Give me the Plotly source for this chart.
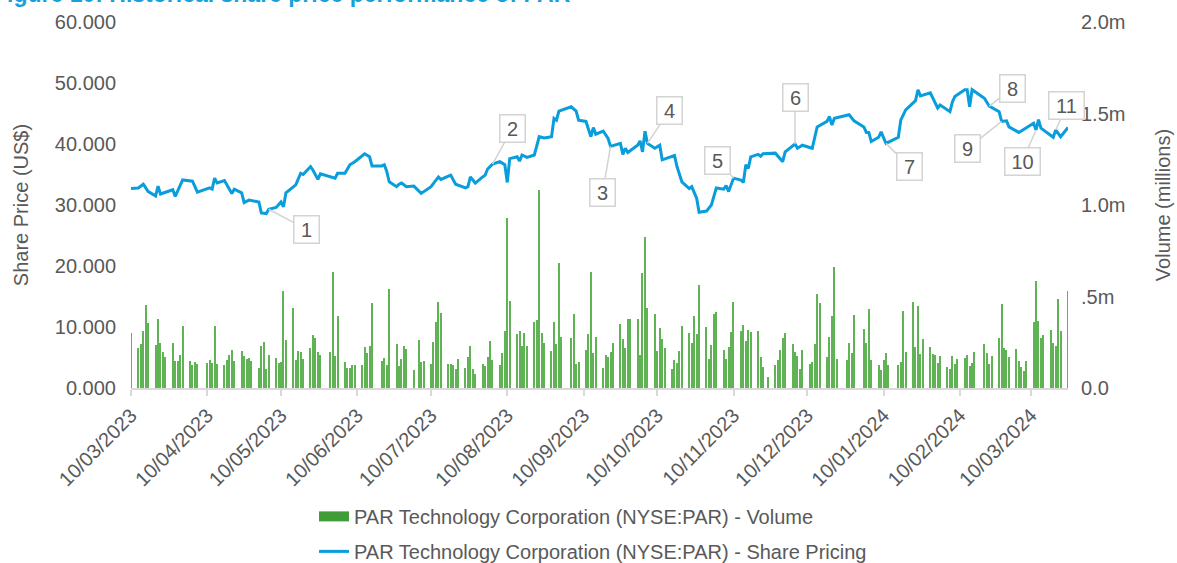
import pandas as pd
import plotly.graph_objects as go

# ---------------- data ----------------
price_dates = [
    "2023-03-10","2023-03-13","2023-03-15","2023-03-17","2023-03-20","2023-03-21","2023-03-22",
    "2023-03-27","2023-03-28","2023-03-31","2023-04-04","2023-04-06","2023-04-11","2023-04-12",
    "2023-04-13","2023-04-14","2023-04-17","2023-04-20","2023-04-21","2023-04-24","2023-04-25",
    "2023-04-27","2023-05-01","2023-05-02","2023-05-04","2023-05-05","2023-05-08","2023-05-10",
    "2023-05-11","2023-05-12","2023-05-16","2023-05-18","2023-05-19","2023-05-22","2023-05-23",
    "2023-05-25","2023-05-26","2023-05-31","2023-06-01","2023-06-02","2023-06-05","2023-06-07",
    "2023-06-09","2023-06-13","2023-06-15","2023-06-16","2023-06-20","2023-06-21","2023-06-22",
    "2023-06-23","2023-06-26","2023-06-27","2023-06-28","2023-06-30","2023-07-03","2023-07-06",
    "2023-07-10","2023-07-13","2023-07-14","2023-07-18","2023-07-20","2023-07-24","2023-07-25",
    "2023-07-26","2023-07-28","2023-07-31","2023-08-01","2023-08-02","2023-08-04","2023-08-07",
    "2023-08-09","2023-08-10","2023-08-11","2023-08-14","2023-08-15","2023-08-16","2023-08-18",
    "2023-08-21","2023-08-23","2023-08-25","2023-08-28","2023-08-29","2023-08-30","2023-08-31",
    "2023-09-05","2023-09-07","2023-09-08","2023-09-11","2023-09-12","2023-09-13","2023-09-14",
    "2023-09-15","2023-09-18","2023-09-20","2023-09-21","2023-09-25","2023-09-26","2023-09-27",
    "2023-09-28","2023-10-02","2023-10-03","2023-10-04","2023-10-05","2023-10-06","2023-10-09",
    "2023-10-11","2023-10-12","2023-10-16","2023-10-17","2023-10-18","2023-10-20","2023-10-23",
    "2023-10-24","2023-10-26","2023-10-27","2023-10-30","2023-11-01","2023-11-03","2023-11-06",
    "2023-11-07","2023-11-08","2023-11-10","2023-11-13","2023-11-14","2023-11-15","2023-11-16",
    "2023-11-17","2023-11-20","2023-11-21","2023-11-22","2023-11-27","2023-11-30","2023-12-01",
    "2023-12-05","2023-12-06","2023-12-08","2023-12-12","2023-12-14","2023-12-18","2023-12-19",
    "2023-12-20","2023-12-21","2023-12-27","2023-12-29","2024-01-02","2024-01-03","2024-01-04",
    "2024-01-05","2024-01-08","2024-01-09","2024-01-11","2024-01-16","2024-01-17","2024-01-19",
    "2024-01-23","2024-01-24","2024-01-25","2024-01-29","2024-01-30","2024-02-01","2024-02-02",
    "2024-02-06","2024-02-07","2024-02-08","2024-02-12","2024-02-13","2024-02-14","2024-02-15",
    "2024-02-20","2024-02-22","2024-02-26","2024-02-27","2024-02-29","2024-03-01","2024-03-05",
    "2024-03-07","2024-03-11","2024-03-12","2024-03-13","2024-03-14","2024-03-18","2024-03-19",
    "2024-03-20","2024-03-22","2024-03-25",
]
price_values = [
    32.7,32.8,33.4,32.2,31.5,33.1,31.8,
    32.5,31.4,34.1,33.9,32.1,32.8,32.6,
    34.4,33.6,34.0,31.9,32.6,32.0,30.4,
    30.8,30.5,28.7,28.6,29.3,29.6,30.5,
    29.7,32.0,33.3,35.2,35.0,36.3,35.7,
    34.2,35.1,34.6,34.4,35.2,35.2,36.6,
    37.1,38.4,37.9,36.4,36.4,36.6,35.5,
    33.8,33.0,33.4,33.6,33.0,33.1,31.9,
    33.0,34.6,34.2,34.9,33.4,32.8,33.0,
    34.6,33.6,34.6,34.9,35.9,36.7,37.1,
    36.6,33.7,37.6,37.9,37.2,38.2,37.8,
    38.2,41.2,41.0,41.2,44.2,43.9,45.4,
    46.1,45.4,43.9,43.7,42.3,41.2,42.7,
    41.6,42.1,40.9,39.6,40.1,38.3,39.3,
    38.6,39.8,40.5,38.7,42.1,40.1,39.3,
    39.8,37.4,37.9,38.1,36.3,33.8,32.7,
    33.0,31.1,28.8,29.0,30.0,32.8,32.6,
    33.2,32.2,34.4,34.1,33.7,36.6,36.0,
    37.9,38.3,38.0,38.4,38.5,37.1,38.7,
    40.0,39.3,39.8,39.3,42.8,43.7,44.5,
    43.1,44.2,44.8,43.8,42.8,41.9,41.9,
    40.4,41.1,42.0,40.1,41.1,43.9,45.6,
    47.1,48.9,47.9,48.4,47.5,45.9,46.4,
    45.3,46.9,47.8,48.9,48.9,46.1,48.9,
    47.5,46.2,45.3,43.7,43.8,42.8,41.9,
    42.4,43.4,42.3,44.0,42.6,41.5,41.1,
    42.3,41.2,42.7,
]

market_holidays = ["2023-04-07","2023-05-29","2023-06-19","2023-07-04","2023-09-04",
                   "2023-11-23","2023-12-25","2024-01-01","2024-01-15","2024-02-19"]
volume_millions = [
    0.299,
    0.217,0.240,0.311,0.454,0.357,
    0.235,0.377,0.244,0.199,0.168,
    0.244,0.149,0.146,0.180,0.339,
    0.146,0.126,0.140,0.133,
    0.138,0.153,0.138,0.339,0.131,
    0.126,0.153,0.180,0.208,0.149,
    0.204,0.175,0.157,0.162,0.149,
    0.111,0.230,0.251,0.102,0.180,
    0.162,0.138,0.140,0.530,0.262,
    0.437,0.153,0.204,0.197,0.158,
    0.217,0.290,0.275,0.195,0.180,
    0.199,0.636,0.175,0.395,
    0.142,0.107,0.107,0.124,0.124,
    0.124,0.222,0.191,0.231,0.466,
    0.149,0.162,0.128,0.543,
    0.240,0.120,0.158,0.230,0.213,
    0.098,0.262,0.144,0.149,
    0.133,0.250,0.361,0.470,0.408,
    0.129,0.129,0.128,0.104,0.158,
    0.111,0.168,0.231,0.106,0.075,
    0.129,0.120,0.169,0.257,0.153,
    0.124,0.189,0.311,0.931,0.475,
    0.293,0.313,0.228,0.299,0.228,
    0.361,0.372,1.082,0.299,0.244,
    0.204,0.361,0.240,0.681,0.281,
    0.271,0.404,0.129,0.142,
    0.208,0.293,0.636,0.189,0.281,
    0.107,0.180,0.171,0.199,0.248,
    0.348,0.270,0.217,0.377,0.377,
    0.377,0.180,0.627,0.827,0.439,
    0.404,0.202,0.326,0.266,0.217,
    0.104,0.153,0.135,0.202,0.341,
    0.301,0.248,0.395,0.297,0.563,
    0.333,0.158,0.235,0.404,0.417,
    0.208,0.158,0.226,0.304,0.470,
    0.313,0.346,0.257,0.317,0.306,
    0.310,0.171,0.113,0.058,
    0.126,0.153,0.208,0.271,0.299,
    0.239,0.195,0.177,0.104,0.208,
    0.131,0.144,0.240,0.515,0.463,
    0.168,0.279,0.393,0.659,0.158,
    0.153,0.248,0.189,0.399,
    0.324,0.244,0.432,0.153,
    0.126,0.098,0.153,0.189,0.126,
    0.126,0.140,0.421,0.195,
    0.470,0.222,0.448,0.186,0.266,
    0.222,0.186,0.180,0.138,0.175,
    0.113,0.104,0.175,0.131,0.158,
    0.162,0.180,0.120,0.138,0.199,
    0.240,0.189,0.129,0.175,
    0.271,0.457,0.217,0.208,0.168,
    0.213,0.149,0.113,0.093,0.149,
    0.359,0.587,0.368,0.273,0.290,
    0.315,0.244,0.231,0.486,0.311,
    0.530,
]

tick_dates = ["2023-03-10","2023-04-10","2023-05-10","2023-06-10","2023-07-10","2023-08-10",
              "2023-09-10","2023-10-10","2023-11-10","2023-12-10","2024-01-10","2024-02-10",
              "2024-03-10"]
price_ticks = [0, 10, 20, 30, 40, 50, 60]
volume_ticks = [0, 0.5, 1.0, 1.5, 2.0]
volume_ticktext = ["0.0", ".5m", "1.0m", "1.5m", "2.0m"]

event_labels = ["1","2","3","4","5","6","7","8","9","10","11"]
event_dates = ["2023-05-05","2023-08-04","2023-09-21","2023-10-06","2023-11-10","2023-12-05",
               "2024-01-11","2024-02-22","2024-02-27","2024-03-12","2024-03-20"]
event_offsets = [(38,20),(20,-36),(-8,46),(22,-33),(-16,-18),(0,-47),
                 (23,23),(23,-18),(-34,27),(-14,32),(11,-24)]

title_text = "Figure 10: Historical share price performance of PAR"
vol_name = "PAR Technology Corporation (NYSE:PAR) - Volume"
price_name = "PAR Technology Corporation (NYSE:PAR) - Share Pricing"

# ---------------- figure ----------------
trading_days = pd.bdate_range("2023-03-10", "2024-03-25", freq="C", holidays=market_holidays)
n = min(len(trading_days), len(volume_millions))
vol_x = trading_days[:n]
vol_y = volume_millions[:n]

FONT = "Liberation Sans, Arial, sans-serif"
GREY = "#595959"
AXIS = "#d9d9d9"

fig = go.Figure()
fig.add_trace(go.Bar(
    x=vol_x, y=vol_y, name=vol_name, yaxis="y", showlegend=False,
    marker=dict(color="#5fb355", line=dict(width=0)),
    width=0.45 * 86400000,
))
# legend entry for the volume series (wide green swatch)
fig.add_trace(go.Scatter(
    x=[None], y=[None], name=vol_name, yaxis="y", mode="lines",
    line=dict(color="#3f9c37", width=10), legendgroup="vol",
))
fig.add_trace(go.Scatter(
    x=pd.to_datetime(price_dates), y=price_values, name=price_name, yaxis="y2",
    mode="lines", line=dict(color="#0a9ddc", width=3), legendgroup="price",
))

price_lookup = dict(zip(price_dates, price_values))
annotations = []
for lab, d, (ax, ay) in zip(event_labels, event_dates, event_offsets):
    annotations.append(dict(
        x=d, y=price_lookup[d], xref="x", yref="y2", text=lab,
        showarrow=True, arrowhead=0, arrowwidth=1.5, arrowcolor="#d3d3d3",
        ax=ax, ay=ay, bgcolor="white", bordercolor="#d3d3d3", borderwidth=1.5,
        borderpad=1, width=22 if len(lab) == 1 else 32, height=24,
        font=dict(family=FONT, size=20, color=GREY),
    ))
annotations.append(dict(
    text="<b>" + title_text + "</b>", xref="paper", yref="paper",
    x=-0.1489, y=1.0775, xanchor="left", yanchor="middle", showarrow=False,
    font=dict(family=FONT, size=23, color="#19a0dc"),
))

fig.update_layout(
    width=1177, height=563,
    margin=dict(l=131, r=109, t=22, b=175, autoexpand=False),
    paper_bgcolor="white", plot_bgcolor="white",
    font=dict(family=FONT, size=20, color=GREY),
    showlegend=True,
    legend=dict(x=0.1953, y=-0.2975, xanchor="left", yanchor="top",
                orientation="v", font=dict(family=FONT, size=20, color=GREY),
                bgcolor="rgba(0,0,0,0)", traceorder="grouped", tracegroupgap=6),
    bargap=0,
    xaxis=dict(
        type="date", range=["2023-03-10", "2024-03-25"], automargin=False,
        tickvals=tick_dates,
        ticktext=[pd.Timestamp(t).strftime("%d/%m/%Y") for t in tick_dates],
        tickangle=-45, showgrid=False, zeroline=False,
        showline=True, linecolor=AXIS, linewidth=1.5,
        ticks="outside", ticklen=6, tickcolor=AXIS, tickwidth=1.5,
        tickfont=dict(family=FONT, size=20, color=GREY),
    ),
    yaxis=dict(
        side="right", range=[0, 2.0], tickvals=volume_ticks, ticktext=volume_ticktext,
        showgrid=False, zeroline=False, showline=False, ticks="", automargin=False,
        ticklabelstandoff=12,
        tickfont=dict(family=FONT, size=20, color=GREY),
        title=dict(text="Volume (millions)", font=dict(family=FONT, size=20, color=GREY), standoff=31),
    ),
    yaxis2=dict(
        side="left", overlaying="y", range=[0, 60], tickvals=price_ticks, tickformat=".3f",
        showgrid=False, zeroline=False, showline=False, ticks="", automargin=False,
        ticklabelstandoff=14,
        tickfont=dict(family=FONT, size=20, color=GREY),
        title=dict(text="Share Price (US$)", font=dict(family=FONT, size=20, color=GREY), standoff=20),
    ),
    annotations=annotations,
)

fig.write_html("out.html", config={"displayModeBar": False},
               post_script="document.body.style.margin='0';")
